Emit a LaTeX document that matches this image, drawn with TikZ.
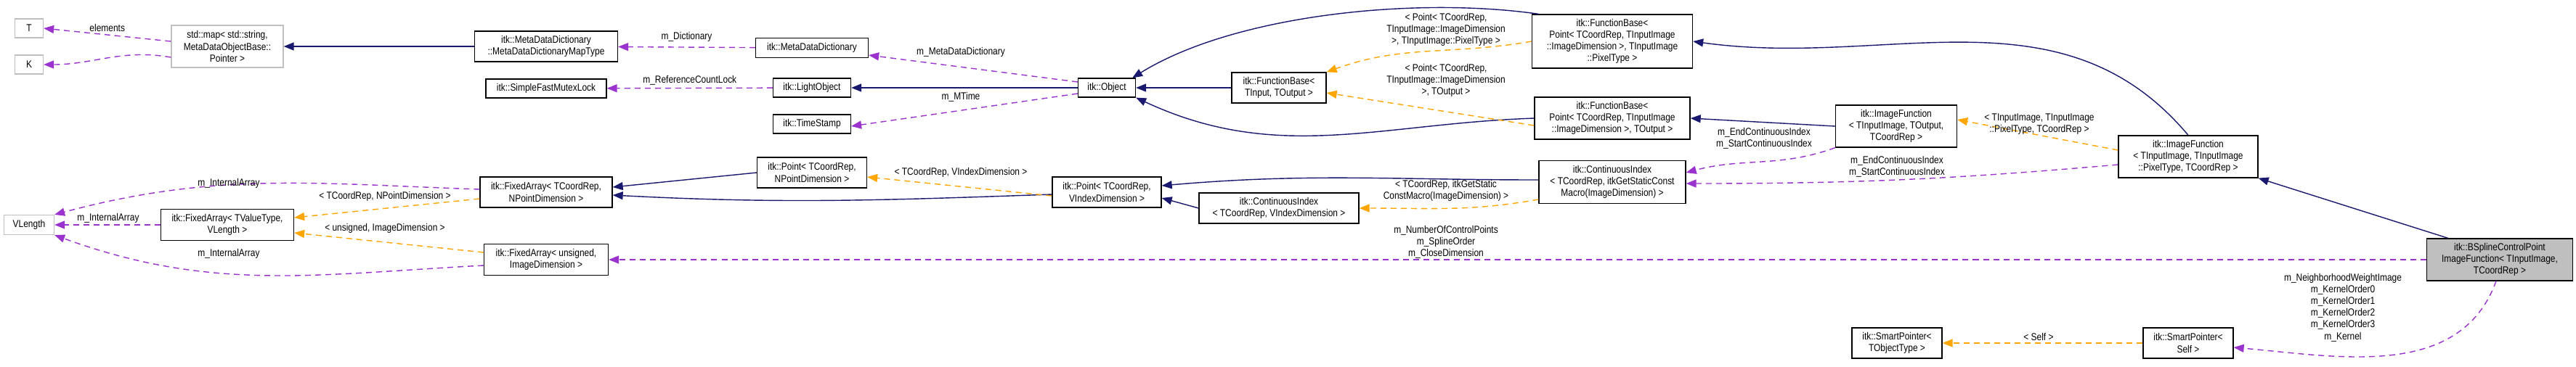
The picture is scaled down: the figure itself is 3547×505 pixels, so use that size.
\documentclass[tikz,border=0pt]{standalone}
\usepackage{fontspec}
\setmainfont{Liberation Sans}[FakeStretch=0.85]
\usetikzlibrary{arrows.meta, positioning}
\definecolor{inhblue}{HTML}{191970}
\definecolor{usepurple}{HTML}{9A32CD}
\definecolor{tmplorange}{HTML}{FFA500}

\begin{document}
\begin{tikzpicture}[x=0.01cm, y=-0.01cm, font=\fontsize{4}{4.6}\selectfont]
				\tikzstyle{cls}   = [draw=black, line width=0.35pt, fill=white, align=center, inner sep=1pt]
				\tikzstyle{ext}   = [cls, draw=gray!50]
				\tikzstyle{lbl}   = [draw=none, align=center, inner sep=0pt]
				\tikzstyle{inh}   = [draw=inhblue, line width=0.4pt, -{Triangle[length=1.4mm, width=1.1mm]}]
				\tikzstyle{use}   = [draw=usepurple, line width=0.4pt, dash pattern=on 0.08cm off 0.06cm, arrows={-{Triangle[color=usepurple, length=1.4mm, width=1.1mm]}}]
				\tikzstyle{tmpl}  = [draw=tmplorange, line width=0.4pt, dash pattern=on 0.08cm off 0.06cm, arrows={-{Triangle[color=tmplorange, length=1.4mm, width=1.1mm]}}]

				\useasboundingbox (0,0) rectangle (3547,505);

				% left column
				\node[ext, minimum width=0.39cm, minimum height=0.26cm] at (40, 39)   (T)     {T};
				\node[ext, minimum width=0.39cm, minimum height=0.26cm] at (40, 89)   (K)     {K};
				\node[ext, minimum width=0.69cm, minimum height=0.27cm] at (40, 310)  (vlen)  {VLength};
				\node[ext, minimum width=1.54cm, minimum height=0.58cm] at (313, 64)  (stdmap) {std::map< std::string,\\ MetaDataObjectBase::\\Pointer >};
				\node[cls, minimum width=1.83cm, minimum height=0.43cm] at (313, 310) (faval) {itk::FixedArray< TValueType,\\ VLength >};

				\node[cls, minimum width=1.97cm, minimum height=0.42cm] at (752, 64)  (mapty) {itk::MetaDataDictionary\\::MetaDataDictionaryMapType};
				\node[cls, minimum width=1.66cm, minimum height=0.26cm] at (752, 122) (mutex) {itk::SimpleFastMutexLock};
				\node[cls, minimum width=1.82cm, minimum height=0.42cm] at (752, 265) (fapt)  {itk::FixedArray< TCoordRep,\\ NPointDimension >};
				\node[cls, minimum width=1.71cm, minimum height=0.43cm] at (752, 358) (fauns) {itk::FixedArray< unsigned,\\ ImageDimension >};

				\node[cls, minimum width=1.55cm, minimum height=0.27cm] at (1118, 66)  (mdd)   {itk::MetaDataDictionary};
				\node[cls, minimum width=1.07cm, minimum height=0.26cm] at (1118, 121) (light) {itk::LightObject};
				\node[cls, minimum width=1.07cm, minimum height=0.26cm] at (1118, 171) (stamp) {itk::TimeStamp};
				\node[cls, minimum width=1.51cm, minimum height=0.42cm] at (1118, 238) (ptnp)  {itk::Point< TCoordRep,\\ NPointDimension >};

				\node[cls, minimum width=0.79cm, minimum height=0.26cm] at (1524, 121) (obj)   {itk::Object};
				\node[cls, minimum width=1.50cm, minimum height=0.42cm] at (1524, 265) (ptvi)  {itk::Point< TCoordRep,\\ VIndexDimension >};

				\node[cls, minimum width=1.30cm, minimum height=0.42cm] at (1761, 121) (fbtt)  {itk::FunctionBase<\\ TInput, TOutput >};
				\node[cls, minimum width=2.20cm, minimum height=0.42cm] at (1761, 287) (civi)  {itk::ContinuousIndex\\< TCoordRep, VIndexDimension >};

				\node[cls, minimum width=2.21cm, minimum height=0.74cm] at (2220, 57)  (fbpix) {itk::FunctionBase<\\ Point< TCoordRep, TInputImage\\::ImageDimension >, TInputImage\\::PixelType >};
				\node[cls, minimum width=2.14cm, minimum height=0.58cm] at (2220, 163) (fbout) {itk::FunctionBase<\\ Point< TCoordRep, TInputImage\\::ImageDimension >, TOutput >};
				\node[cls, minimum width=2.02cm, minimum height=0.59cm] at (2220, 251) (ciget) {itk::ContinuousIndex\\< TCoordRep, itkGetStaticConst\\Macro(ImageDimension) >};

				\node[cls, minimum width=1.67cm, minimum height=0.58cm] at (2611, 174) (imfout) {itk::ImageFunction\\< TInputImage, TOutput,\\ TCoordRep >};
				\node[cls, minimum width=1.24cm, minimum height=0.42cm] at (2612, 473) (sptobj) {itk::SmartPointer<\\ TObjectType >};

				\node[cls, minimum width=1.92cm, minimum height=0.58cm] at (3013, 216) (imfpix) {itk::ImageFunction\\< TInputImage, TInputImage\\::PixelType, TCoordRep >};
				\node[cls, minimum width=1.24cm, minimum height=0.42cm] at (3013, 473) (spself) {itk::SmartPointer<\\ Self >};
				\node[cls, fill=gray!50, minimum width=2.01cm, minimum height=0.58cm] at (3442, 358) (bspl) {itk::BSplineControlPoint\\ImageFunction< TInputImage,\\ TCoordRep >};

				% inheritance
				\draw[inh] (mapty) -- (stdmap);
				\draw[inh] (obj) -- (light);
				\draw[inh] (fbtt) -- (obj);
				\draw[inh] ([xshift=0.1cm]fbpix.north west) .. controls (1950,-5) and (1700,20) .. ([xshift=-0.05cm]obj.north east);
				\draw[inh] (fbout.west) to[out=182, in=-25] (obj.south east);
				\draw[inh] (imfout.west) -- (fbout.east);
				\draw[inh] (imfpix.north) to[out=130, in=-8] (fbpix.east);
				\draw[inh] (bspl.north west) ++(30,0) -- (imfpix.south east);
				\draw[inh] (ptnp.west) -- ([yshift=0.07cm]fapt.east);
				\draw[inh] ([yshift=-0.03cm]ptvi.west) to[out=182, in=-3] ([yshift=-0.04cm]fapt.east);
				\draw[inh] (civi.west) -- ([yshift=-0.08cm]ptvi.east);
				\draw[inh] ([yshift=0.03cm]ciget.west) to[out=180, in=5] ([yshift=0.09cm]ptvi.east);

				% usage
				\draw[use] ([yshift=0.07cm]stdmap.west) -- (T.east) node[lbl, pos=0.5, above=1pt] {elements};
				\draw[use] ([yshift=-0.15cm]stdmap.west) to[out=170, in=0] (K.east) node[lbl, pos=0.5, above=2pt] {keys};
				\draw[use] (mdd) -- (mapty) node[lbl, pos=0.5, above=2pt] {m\_Dictionary};
				\draw[use] (light) -- (mutex) node[lbl, pos=0.5, above=1pt] {m\_ReferenceCountLock};
				\draw[use] ([yshift=0.08cm]obj.west) -- ([yshift=-0.1cm]mdd.east);
				\node[lbl] at (1323, 72) (lmdd) {m\_MetaDataDictionary};
				\draw[use] ([yshift=-0.08cm]obj.west) -- ([yshift=-0.03cm]stamp.east);
				\node[lbl] at (1323, 134) (lmt) {m\_MTime};
				\draw[use] ([yshift=0.04cm]fapt.west) to[out=178, in=15] (vlen.north east);
				\node[lbl] at (315, 253) (lia1) {m\_InternalArray};
				\draw[use] (faval) -- (vlen);
				\node[lbl] at (149, 301) (lia2) {m\_InternalArray};
				\draw[use] ([yshift=-0.08cm]fauns.west) to[out=183, in=-20] (vlen.south east);
				\node[lbl] at (315, 350) (lia3) {m\_InternalArray};
				\draw[use] (imfout.south west) to[out=200, in=15] ([yshift=0.13cm]ciget.east);
				\node[lbl] at (2429, 191) (lci1) {m\_EndContinuousIndex\\m\_StartContinuousIndex};
				\draw[use] ([yshift=-0.11cm]imfpix.west) to[out=185, in=0] ([yshift=-0.02cm]ciget.east);
				\node[lbl] at (2612, 230) (lci2) {m\_EndContinuousIndex\\m\_StartContinuousIndex};
				\draw[use] (bspl.west) -- (fauns.east);
				\node[lbl] at (1991, 334) (lspl) {m\_NumberOfControlPoints\\m\_SplineOrder\\m\_CloseDimension};
				\draw[use] ([xshift=-0.05cm]bspl.south) to[out=-110, in=-5] ([yshift=-0.06cm]spself.east);
				\node[lbl] at (3226, 424) (lker) {m\_NeighborhoodWeightImage\\m\_KernelOrder0\\m\_KernelOrder1\\m\_KernelOrder2\\m\_KernelOrder3\\m\_Kernel};

				% template instances
				\draw[tmpl] ([yshift=-0.09cm]fapt.west) -- ([yshift=0.1cm]faval.east);
				\node[lbl] at (530, 271) (lt1) {< TCoordRep, NPointDimension >};
				\draw[tmpl] ([yshift=0.1cm]fauns.west) -- ([yshift=-0.11cm]faval.east);
				\node[lbl] at (530, 315) (lt2) {< unsigned, ImageDimension >};
				\draw[tmpl] ([yshift=-0.05cm]ptvi.west) -- ([yshift=-0.06cm]ptnp.east);
				\node[lbl] at (1323, 238) (lt3) {< TCoordRep, VIndexDimension >};
				\draw[tmpl] (fbpix.west) to[out=190, in=20] (fbtt.north east);
				\node[lbl] at (1991, 41) (lt4) {< Point< TCoordRep,\\TInputImage::ImageDimension\\>, TInputImage::PixelType >};
				\draw[tmpl] ([yshift=-0.1cm]fbout.west) -- ([yshift=-0.07cm]fbtt.east);
				\node[lbl] at (1991, 111) (lt5) {< Point< TCoordRep,\\TInputImage::ImageDimension\\>, TOutput >};
				\draw[tmpl] ([yshift=-0.24cm]ciget.west) to[out=190, in=0] (civi.east);
				\node[lbl] at (1991, 263) (lt6) {< TCoordRep, itkGetStatic\\ConstMacro(ImageDimension) >};
				\draw[tmpl] ([yshift=0.09cm]imfpix.west) -- ([yshift=0.09cm]imfout.east);
				\node[lbl] at (2808, 171) (lt7) {< TInputImage, TInputImage\\::PixelType, TCoordRep >};
				\draw[tmpl] (spself.west) -- (sptobj.east);
				\node[lbl] at (2807, 464) (lt8) {< Self >};
			\end{tikzpicture}
\end{document}
